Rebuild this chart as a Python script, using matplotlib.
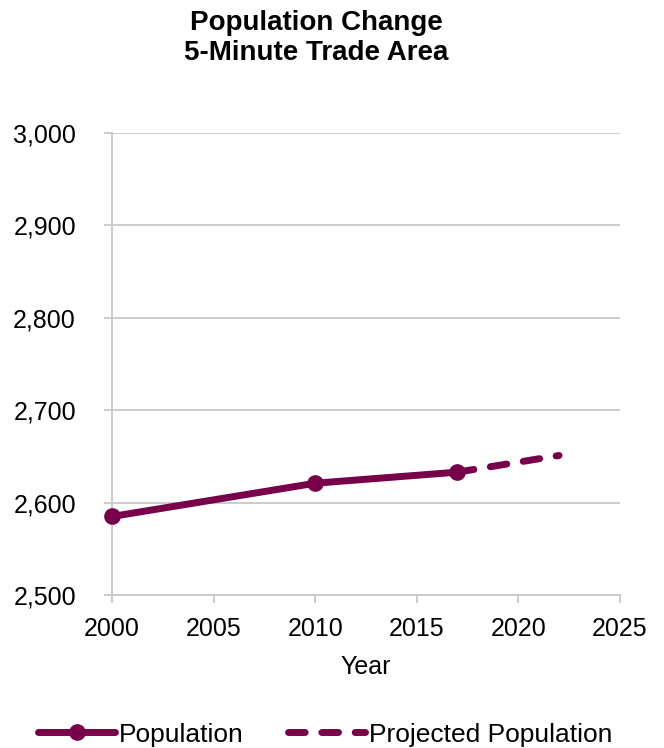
import matplotlib
matplotlib.use('Agg')
import matplotlib.pyplot as plt
from matplotlib.ticker import FuncFormatter

plt.rcParams['font.family'] = ['Liberation Sans', 'DejaVu Sans']

# ── Data ─────────────────────────────────────────────────────────────────────
pop_years = [2000, 2010, 2017]
pop_values = [2585, 2621, 2633]
proj_years = [2017, 2022]
proj_values = [2633, 2651]

x_ticks = [2000, 2005, 2010, 2015, 2020, 2025]
y_ticks = [2500, 2600, 2700, 2800, 2900, 3000]

LINE_COLOR = '#78004B'
GRID_COLOR = '#C8C8C8'

fig = plt.figure(figsize=(6.64, 7.48), dpi=100)
fig.patch.set_facecolor('white')
ax = fig.add_axes([0.1687, 0.2045, 0.765, 0.6177])

ax.plot(proj_years, proj_values, color=LINE_COLOR, linewidth=5,
        dashes=(2.4, 2.4), dash_capstyle='round', solid_capstyle='round',
        label='Projected Population', zorder=3, clip_on=False)
ax.plot(pop_years, pop_values, color=LINE_COLOR, linewidth=5,
        marker='o', markersize=11, solid_capstyle='round',
        label='Population', zorder=4, clip_on=False)

ax.set_xlim(2000, 2025)
ax.set_ylim(2500, 3000)
ax.set_xticks(x_ticks)
ax.set_yticks(y_ticks)
ax.yaxis.set_major_formatter(FuncFormatter(lambda v, p: f'{int(v):,}'))

ax.yaxis.grid(True, color=GRID_COLOR, linewidth=1.3, zorder=0)
ax.set_axisbelow(True)
for side in ['top', 'right']:
    ax.spines[side].set_visible(False)
for side in ['left', 'bottom']:
    ax.spines[side].set_color(GRID_COLOR)
    ax.spines[side].set_linewidth(1.3)
ax.tick_params(axis='both', colors=GRID_COLOR, length=6, width=1.3,
               labelcolor='black', labelsize=18)
ax.tick_params(axis='y', pad=20)
ax.tick_params(axis='x', pad=10)

ax.set_xlabel('Year', fontsize=18, labelpad=10)

fig.text(0.476, 0.987, 'Population Change\n5-Minute Trade Area',
         ha='center', va='top', fontsize=20, fontweight='bold',
         linespacing=1.2)

handles, labels = ax.get_legend_handles_labels()
fig.legend(handles[::-1], labels[::-1], loc='lower center',
           bbox_to_anchor=(0.49, -0.03), ncol=2, frameon=False,
           fontsize=19, handlelength=2.9, handletextpad=0.15,
           columnspacing=1.7)

fig.savefig('out.png', dpi=100, facecolor='white')
